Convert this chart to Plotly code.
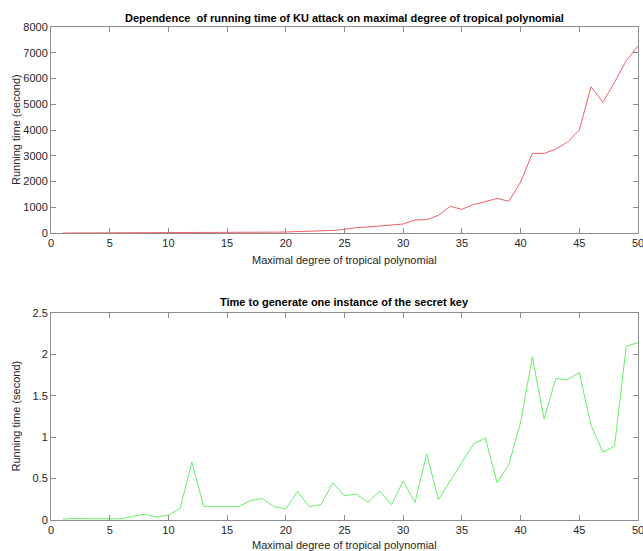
import plotly.graph_objects as go

degree = list(range(1, 51))

attack_time = [0.5, 0.6, 0.8, 1, 1.3, 1.8, 2.4, 3, 4, 5,
               6, 8, 10, 12, 15, 18, 22, 27, 33, 40,
               50, 60, 75, 100, 140, 207, 233, 270, 320, 350,
               505, 517, 685, 1035, 918, 1110, 1215, 1345, 1230, 1980,
               3090, 3090, 3260, 3530, 4000, 5680, 5080, 5850, 6690, 7260]

keygen_time = [0.01, 0.02, 0.015, 0.015, 0.02, 0.015, 0.045, 0.07, 0.035, 0.06,
               0.14, 0.70, 0.165, 0.165, 0.17, 0.165, 0.235, 0.26, 0.16, 0.135,
               0.345, 0.16, 0.185, 0.45, 0.293, 0.313, 0.213, 0.35, 0.185, 0.47,
               0.213, 0.80, 0.245, 0.47, 0.70, 0.92, 0.99, 0.45, 0.67, 1.18,
               1.97, 1.22, 1.71, 1.695, 1.78, 1.145, 0.82, 0.89, 2.10, 2.14]

x_ticks = [0, 5, 10, 15, 20, 25, 30, 35, 40, 45, 50]
top_y_ticks = [0, 1000, 2000, 3000, 4000, 5000, 6000, 7000, 8000]
bot_y_ticks = [0, 0.5, 1, 1.5, 2, 2.5]
bot_y_labels = ["0", "0.5", "1", "1.5", "2", "2.5"]

FONT = "Liberation Sans, Arial, Helvetica, sans-serif"
AX = "#8c8c8c"
TXT = "#262626"
W, H = 643, 551
L, R, T, B = 51, 5, 27, 31
IH = H - T - B

def py(pix):
    # pixel row -> paper fraction inside plot area
    return 1 - (pix - T) / IH

fig = go.Figure()
fig.add_trace(go.Scatter(x=degree, y=attack_time, mode="lines",
                         line=dict(color="#f0606a", width=1), xaxis="x", yaxis="y"))
fig.add_trace(go.Scatter(x=degree, y=keygen_time, mode="lines",
                         line=dict(color="#66ee66", width=1), xaxis="x2", yaxis="y2"))

def xax(anchor):
    return dict(domain=[0, 1], range=[0, 50], tickvals=x_ticks,
                ticks="inside", ticklen=5, tickcolor=AX, showline=True, linecolor=AX,
                linewidth=1, mirror="ticks", showgrid=False, zeroline=False,
                automargin=False, ticklabeloverflow="allow",
                tickfont=dict(size=11, color=TXT, family=FONT), anchor=anchor)

def yax(domain, rng, tv, tt, anchor):
    return dict(domain=domain, range=rng, tickvals=tv, ticktext=tt,
                ticks="inside", ticklen=5, tickcolor=AX, showline=True, linecolor=AX,
                linewidth=1, mirror="ticks", showgrid=False, zeroline=False,
                automargin=False, ticklabeloverflow="allow",
                tickfont=dict(size=11, color=TXT, family=FONT), anchor=anchor)

def ann(text, xp, yp, size, bold=False, angle=0):
    return dict(text=f"<b>{text}</b>" if bold else text, x=xp, y=yp,
                xref="paper", yref="paper", showarrow=False, textangle=angle,
                font=dict(size=size, color="black" if bold else TXT, family=FONT),
                xanchor="center", yanchor="middle")

xmid = 0.5
fig.update_layout(
    width=W, height=H,
    margin=dict(l=L, r=R, t=T, b=B, autoexpand=False),
    paper_bgcolor="white", plot_bgcolor="white",
    showlegend=False,
    xaxis=xax("y"),
    yaxis=yax([py(233), 1], [0, 8000], top_y_ticks, [str(v) for v in top_y_ticks], "x"),
    xaxis2=xax("y2"),
    yaxis2=yax([0, py(313)], [0, 2.5], bot_y_ticks, bot_y_labels, "x2"),
    annotations=[
        ann("Dependence  of running time of KU attack on maximal degree of tropical polynomial",
            xmid, py(18), 11, bold=True),
        ann("Time to generate one instance of the secret key", xmid, py(302), 11, bold=True),
        ann("Maximal degree of tropical polynomial", xmid, py(260), 11),
        ann("Maximal degree of tropical polynomial", xmid, py(545), 11),
        ann("Running time (second)", -35 / (W - L - R), (py(27) + py(233)) / 2, 11, angle=-90),
        ann("Running time (second)", -35 / (W - L - R), (py(313) + py(520)) / 2, 11, angle=-90),
    ],
)

fig.write_html("out.html", config={"displayModeBar": False},
               post_script="document.body.style.margin='0';document.body.style.overflow='hidden';")
